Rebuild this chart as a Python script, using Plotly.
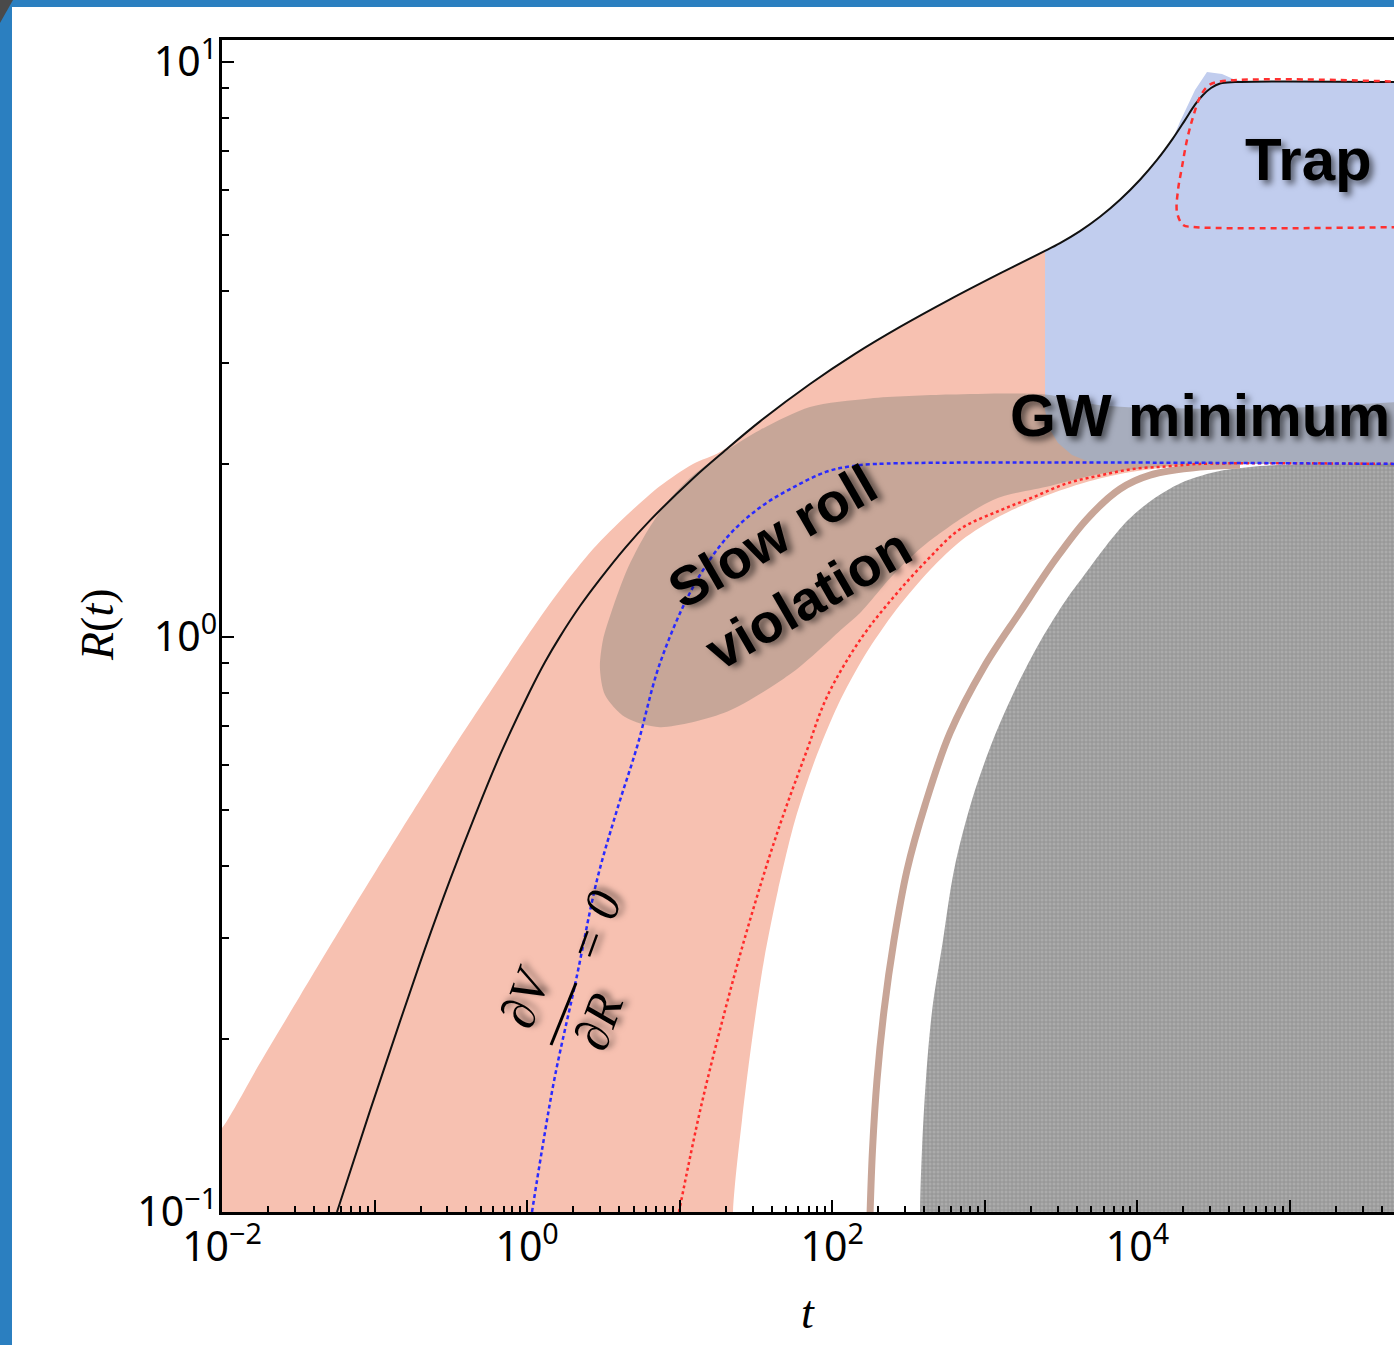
import plotly.graph_objects as go

# ---------------- data ----------------
# solid black trajectory R(t)
black_t = [0.0567, 0.0933, 0.1468, 0.2141, 0.3122, 0.4553, 0.6641, 1.044, 1.310, 1.642, 2.221,
           3.004, 4.379, 6.388, 12.22, 19.81, 33.6, 71.45, 140.9, 277.9, 591, 1257, 2405, 3109,
           4203, 5685, 7690, 10400, 13440, 17100, 20510, 23850, 26900, 30360, 34800, 43600, 500000]
black_R = [0.1, 0.1499, 0.2145, 0.2871, 0.3780, 0.4891, 0.6235, 0.8055, 0.9048, 1.0016, 1.132,
           1.261, 1.428, 1.595, 1.887, 2.110, 2.371, 2.754, 3.107, 3.461, 3.865, 4.288, 4.674, 4.842,
           5.080, 5.380, 5.759, 6.240, 6.755, 7.364, 7.925, 8.431, 8.762, 9.012, 9.175, 9.23, 9.23]

# blue dotted: dV/dR = 0
blue_t = [1.076, 1.25, 1.52, 2.09, 2.87, 3.88, 5.25, 7.43, 12.2, 20.4, 33.6, 55.3, 92.3, 131, 196, 500000]
blue_R = [0.1, 0.128, 0.172, 0.253, 0.378, 0.500, 0.644, 0.901, 1.22, 1.49, 1.68, 1.82, 1.94, 1.98, 2.0, 2.0]

# red dotted curve
red_t = [9.89, 13.6, 19.8, 28.9, 44.1, 68.3, 92.3, 152, 250, 418, 687, 1257, 2070, 3450, 5690,
         9350, 15600, 25700, 500000]
red_R = [0.1, 0.150, 0.224, 0.322, 0.461, 0.636, 0.787, 0.988, 1.17, 1.36, 1.54, 1.66, 1.75, 1.85,
         1.91, 1.96, 1.98, 2.0, 2.0]

# thick brown curve
brown_t = [177, 183.4, 196.5, 218.3, 253.8, 308.9, 405.3, 591, 987.2, 1700, 2883, 4672, 7690,
           12100, 25700, 47020]
brown_R = [0.1, 0.128, 0.170, 0.224, 0.297, 0.393, 0.510, 0.681, 0.887, 1.105, 1.361, 1.604, 1.809,
           1.912, 1.975, 1.99]

# grey hatched (excluded) region outline
gray_t = [376, 376, 387, 411, 451, 531.7, 627.8, 823.8, 1131, 1576, 2334, 3403, 4744, 6225, 8677,
          12460, 19300, 32250, 54700, 116400, 200000, 400000, 1e7, 1e7]
gray_R = [0.05, 0.1, 0.128, 0.170, 0.224, 0.297, 0.393, 0.521, 0.662, 0.809, 0.988, 1.160, 1.308,
          1.440, 1.597, 1.731, 1.853, 1.936, 1.975, 2.0, 2.0, 2.0, 2.0, 0.05]

# salmon band outline
salmon_t = [0.009, 0.01, 0.01774, 0.03244, 0.06902, 0.1468, 0.3122, 0.6641, 1.044, 1.642, 2.703,
            4.51, 7.43, 12.22, 18.37, 33.6, 71.45, 140.9, 277.9, 591, 1257, 2405, 5685,
            1e7, 1e7, 200000, 54700, 16350, 7690, 4203, 2299, 1257, 708, 437, 261.6, 163.9, 109.0,
            77.0, 57.0, 44.1, 35.7, 29.77, 25.60, 22.35, 22.35, 0.009]
salmon_R = [0.137, 0.140, 0.1816, 0.2375, 0.3311, 0.4580, 0.6285, 0.8518, 1.020, 1.207, 1.422,
            1.630, 1.831, 2.0, 2.098, 2.371, 2.754, 3.107, 3.461, 3.865, 4.288, 4.674, 5.185,
            5.185, 2.0, 2.0, 2.0, 1.975, 1.920, 1.845, 1.745, 1.623, 1.475, 1.308, 1.114, 0.930,
            0.762, 0.611, 0.480, 0.363, 0.2744, 0.1991, 0.1445, 0.1, 0.05, 0.05]

# blue "trap" region outline
bluefill_t = [2480, 3109, 4203, 5685, 7690, 10400, 13440, 17100, 19010, 23850, 28580, 35850, 43600,
              54700, 600000, 600000, 6610, 4890, 3726, 3017, 2633, 2480, 2480]
bluefill_R = [4.69, 4.842, 5.080, 5.380, 5.759, 6.240, 6.755, 7.364, 7.87, 8.94, 9.61, 9.53, 9.31,
              9.23, 9.23, 2.0, 2.0, 2.014, 2.073, 2.175, 2.309, 2.48, 4.69]

# "slow roll violation" blob outline
blob_t = [3.00, 3.14, 3.60, 4.51, 5.92, 8.01, 11.68, 18.37, 33.6, 71.4, 176.7, 591, 2480, 5685,
          50000, 1e7, 1e7, 200000, 54700, 15630, 5685, 2673, 1131, 417.6, 250, 152, 117.6, 55.3,
          20.4, 7.43, 4.38, 3.24, 3.00]
blob_R = [0.883, 0.988, 1.114, 1.308, 1.504, 1.697, 1.890, 2.073, 2.291, 2.512, 2.60, 2.64, 2.64,
          2.53, 2.49, 2.48, 2.0, 2.0, 2.0, 1.983, 1.920, 1.831, 1.731, 1.457, 1.282, 1.101, 1.037,
          0.869, 0.741, 0.697, 0.726, 0.793, 0.883]

# red dashed "trap" contour
trap_t = [600000, 23140, 19890, 18180, 18460, 19600, 21130, 23140, 25720, 28580, 33220, 600000]
trap_R = [5.165, 5.165, 5.21, 5.48, 5.99, 6.57, 7.32, 8.02, 8.69, 9.05, 9.23, 9.23]

x_ticks = [1e-2, 1e-1, 1e0, 1e1, 1e2, 1e3, 1e4, 1e5]
x_ticktext = ["10<sup>−2</sup>", "", "10<sup>0</sup>", "", "10<sup>2</sup>", "", "10<sup>4</sup>", ""]
y_ticks = [1e-1, 1e0, 1e1]
y_ticktext = ["10<sup>−1</sup>", "10<sup>0</sup>", "10<sup>1</sup>"]

# ---------------- layout geometry ----------------
W, H = 1394, 1345
ML, MT, MB = 222, 40, 133
PW = W - ML
PH = H - MT - MB
X_RANGE = [-2, -2 + PW / 152.57]
Y_RANGE = [-1, -1 + PH / 575.0]


def P(px, py):
    return (px - ML) / PW, (H - MB - py) / PH


SALMON = "#f7c1b1"
BLUEF = "#c1cdee"
SHADOW = "4px 4px 6px rgba(0,0,0,0.55)"

fig = go.Figure()

fig.add_trace(go.Scatter(x=salmon_t, y=salmon_R, mode="lines", fill="toself", fillcolor=SALMON,
                         line=dict(width=0, shape="spline", smoothing=0.8), hoverinfo="skip"))
fig.add_trace(go.Scatter(x=bluefill_t, y=bluefill_R, mode="lines", fill="toself", fillcolor=BLUEF,
                         line=dict(width=0, shape="linear"), hoverinfo="skip"))
fig.add_trace(go.Scatter(x=gray_t, y=gray_R, mode="lines", fill="toself", fillcolor="#a6a6a6",
                         fillpattern=dict(shape="+", size=4, solidity=0.35,
                                          fgcolor="#707070", bgcolor="#ababab"),
                         line=dict(width=0, shape="spline", smoothing=0.9), hoverinfo="skip"))
fig.add_trace(go.Scatter(x=blob_t, y=blob_R, mode="lines", fill="toself",
                         fillcolor="rgba(128,124,116,0.40)",
                         line=dict(width=0, shape="spline", smoothing=0.8), hoverinfo="skip"))

fig.add_trace(go.Scatter(x=brown_t, y=brown_R, mode="lines",
                         line=dict(color="#c8a597", width=7, shape="spline", smoothing=1.0),
                         hoverinfo="skip"))
fig.add_trace(go.Scatter(x=red_t, y=red_R, mode="lines",
                         line=dict(color="#ff2a2a", width=2.5, dash="3px,3px", shape="spline"),
                         hoverinfo="skip"))
fig.add_trace(go.Scatter(x=blue_t, y=blue_R, mode="lines",
                         line=dict(color="#2a2aff", width=2.5, dash="4px,3px", shape="spline"),
                         hoverinfo="skip"))
fig.add_trace(go.Scatter(x=black_t, y=black_R, mode="lines",
                         line=dict(color="#111111", width=2, shape="spline", smoothing=1.0),
                         hoverinfo="skip"))
fig.add_trace(go.Scatter(x=trap_t, y=trap_R, mode="lines",
                         line=dict(color="#ff3030", width=2.5, dash="6px,5px", shape="spline"),
                         hoverinfo="skip"))

tickfont = dict(family="Noto Sans, Open Sans, sans-serif", size=41, color="black")
fig.update_xaxes(type="log", range=X_RANGE, showgrid=False, zeroline=False,
                 showline=True, linecolor="black", linewidth=2.5, mirror=True,
                 ticks="inside", ticklen=12, tickwidth=2, tickcolor="black",
                 tickvals=x_ticks, ticktext=x_ticktext, tickfont=tickfont,
                 ticklabelstandoff=-3,
                 minor=dict(ticks="inside", ticklen=6, tickwidth=1.5, tickcolor="black",
                            tickvals=[m * 10.0 ** k for k in range(-2, 6) for m in range(2, 10)]))
fig.update_yaxes(type="log", range=Y_RANGE, showgrid=False, zeroline=False,
                 showline=True, linecolor="black", linewidth=2.5, mirror=False,
                 ticks="inside", ticklen=12, tickwidth=2, tickcolor="black",
                 tickvals=y_ticks, ticktext=y_ticktext, tickfont=tickfont,
                 ticklabelstandoff=-6,
                 minor=dict(ticks="inside", ticklen=7, tickwidth=1.5, tickcolor="black",
                            tickvals=[m * 10.0 ** k for k in range(-1, 2) for m in range(2, 10)]))

ann = []
bold = dict(family="Liberation Sans, Arial, sans-serif", color="black", weight="bold",
            shadow=SHADOW)
x, y = P(1308, 160)
ann.append(dict(x=x, y=y, text="Trap", font=dict(size=60, **bold), textangle=0))
x, y = P(1008, 416)
ann.append(dict(x=x, y=y, text="GW minimum", xanchor="left", font=dict(size=59, **bold)))
x, y = P(790, 568)
ann.append(dict(x=x, y=y, text="Slow roll<br>violation", textangle=-30,
                font=dict(size=55, **bold)))
serif = dict(family="Liberation Serif, Times New Roman, serif", color="black", style="italic")
x, y = P(525, 997)
ann.append(dict(x=x, y=y, text="∂V", textangle=-70, font=dict(size=50, shadow=SHADOW, **serif)))
x, y = P(598, 1022)
ann.append(dict(x=x, y=y, text="∂R", textangle=-70, font=dict(size=50, shadow=SHADOW, **serif)))
x, y = P(594, 927)
ann.append(dict(x=x, y=y, text="= 0", textangle=-70, font=dict(size=50, shadow=SHADOW, **serif)))
x, y = P(97, 625)
ann.append(dict(x=x, y=y, text="<i>R</i>(<i>t</i>)", textangle=-90,
                font=dict(size=46, family="Liberation Serif, serif", color="black")))
x, y = P(808, 1312)
ann.append(dict(x=x, y=y, text="<i>t</i>",
                font=dict(size=46, family="Liberation Serif, serif", color="black")))
for a in ann:
    a.update(xref="paper", yref="paper", showarrow=False)
    a.setdefault("xanchor", "center")
    a.setdefault("yanchor", "middle")

shapes = []
bx0, by0 = P(551, 1045)
bx1, by1 = P(576, 983)
shapes.append(dict(type="line", xref="paper", yref="paper", x0=bx0, y0=by0, x1=bx1, y1=by1,
                   line=dict(color="black", width=3)))
# page frame (blue slide border)
BORDER = "#2b7fc0"
a0, b0 = P(0, 1345)
a1, b1 = P(12, 0)
shapes.append(dict(type="rect", xref="paper", yref="paper", x0=a0, y0=b0, x1=a1, y1=b1,
                   fillcolor=BORDER, line=dict(width=0), layer="above"))
a0, b0 = P(0, 7)
a1, b1 = P(1394, 0)
shapes.append(dict(type="rect", xref="paper", yref="paper", x0=a0, y0=b0, x1=a1, y1=b1,
                   fillcolor=BORDER, line=dict(width=0), layer="above"))
c0 = P(0, 0)
c1 = P(13, 0)
c2 = P(0, 23)
shapes.append(dict(type="path", xref="paper", yref="paper",
                   path=f"M {c0[0]} {c0[1]} L {c1[0]} {c1[1]} L {c2[0]} {c2[1]} Z",
                   fillcolor="#4a4a4a", line=dict(width=0), layer="above"))

fig.update_layout(width=W, height=H, margin=dict(l=ML, r=0, t=MT, b=MB, pad=0),
                  autosize=False,
                  paper_bgcolor="white", plot_bgcolor="white", showlegend=False,
                  annotations=ann, shapes=shapes)

fig.write_html("out.html", config={"displayModeBar": False},
               post_script="document.body.style.margin='0';document.body.style.overflow='hidden';")
